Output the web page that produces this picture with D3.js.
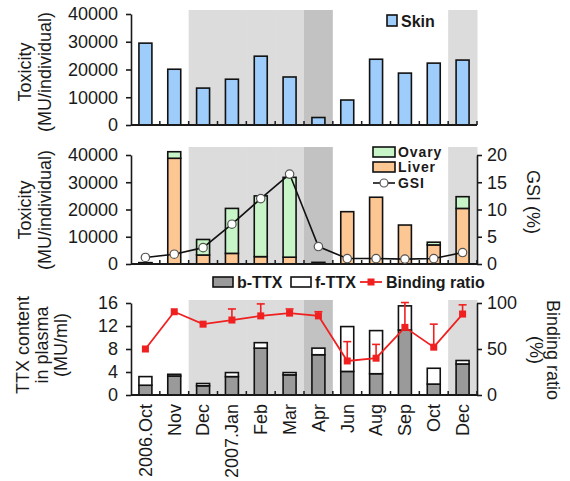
<!DOCTYPE html>
<html><head><meta charset="utf-8">
<script src="https://cdn.jsdelivr.net/npm/d3@7"></script>
<style>
body{margin:0;background:#fff;}
svg text{font-family:"Liberation Sans",Arial,sans-serif;fill:#1a1a1a;}
</style></head>
<body><svg id="c" width="570" height="481"></svg>
<script>
const months = ["2006.Oct","Nov","Dec","2007.Jan","Feb","Mar","Apr","Jun","Aug","Sep","Oct","Dec"];
const skin = [29500,20100,13300,16500,24800,17300,2700,9000,23700,18700,22300,23400];
const liver = [400,38800,3300,3900,2700,2500,600,19200,24500,14300,7000,20400];
const ovary = [100,2400,5700,16500,22300,29300,0,0,0,0,1000,4300];
const gsi = [1.2,1.8,3.0,7.3,12.0,16.5,3.2,1.0,1.0,0.9,1.0,2.1];
const bTTX = [1.7,3.3,1.6,3.2,8.15,3.5,7.0,4.1,3.7,11.3,1.9,5.4];
const fTTX = [1.5,0.3,0.4,0.7,0.95,0.4,1.15,7.8,7.5,4.2,2.75,0.6];
const binding = [50,90.5,77,81.5,86,89,86,37,40,73.5,52,88];
const bindingErr = [0,0,0,12,13,4.5,4.5,21,15,27,25,10];
const lightShade = [2,3,4,5,11];
const darkShade = [6];
const toxTicks = [0,10000,20000,30000,40000];
const gsiTicks = [0,5,10,15,20];
const plasmaTicks = [0,4,8,12,16];
const ratioTicks = [0,50,100];

const svg = d3.select("#c");
const X0 = 131, X1 = 477;
const idx = d3.range(months.length);
const xb = d3.scaleBand().domain(idx).range([X0, X1]).padding(0);
const x = d3.scaleBand().domain(idx).range([X0, X1]).paddingInner(0.55).paddingOuter(0.275);
const dark = "#1a1a1a";

const yTop = d3.scaleLinear().domain([0,40000]).range([125,14]);
const yMid = d3.scaleLinear().domain([0,40000]).range([264,155]);
const yGsi = d3.scaleLinear().domain([0,20]).range([264,155]);
const yBot = d3.scaleLinear().domain([0,16]).range([395,303]);
const yRat = d3.scaleLinear().domain([0,100]).range([395,303]);

function shading(yTopPx, yBase){
  const g = svg.append("g");
  g.selectAll("rect.l").data(lightShade).join("rect")
    .attr("x", i=>xb(i)).attr("width", xb.bandwidth()+0.5)
    .attr("y", yTopPx).attr("height", yBase-yTopPx).attr("fill","#dcdcdc");
  g.selectAll("rect.d").data(darkShade).join("rect")
    .attr("x", i=>xb(i)).attr("width", xb.bandwidth())
    .attr("y", yTopPx).attr("height", yBase-yTopPx).attr("fill","#c2c2c2");
}
function xAxis(yBase){
  const g = svg.append("g");
  g.append("line").attr("x1",X0).attr("x2",X1).attr("y1",yBase).attr("y2",yBase)
    .attr("stroke",dark).attr("stroke-width",2);
  g.selectAll("line.t").data(idx.slice(1)).join("line")
    .attr("x1",i=>xb(i)).attr("x2",i=>xb(i)).attr("y1",yBase).attr("y2",yBase-4)
    .attr("stroke",dark).attr("stroke-width",1.5);
  g.append("line").attr("x1",X1).attr("x2",X1).attr("y1",yBase).attr("y2",yBase-4)
    .attr("stroke",dark).attr("stroke-width",1.5);
}
function styleAxis(g){
  g.selectAll("path.domain").attr("stroke",dark).attr("stroke-width",1.6);
  g.selectAll(".tick line").attr("stroke",dark).attr("stroke-width",1.6);
  g.selectAll(".tick text").style("font-size","18px").attr("fill",dark);
}
function leftAxis(scale, ticks){
  const g = svg.append("g").attr("transform",`translate(${X0},0)`)
    .call(d3.axisLeft(scale).tickValues(ticks).tickSize(5).tickSizeOuter(0).tickPadding(8).tickFormat(d3.format("d")));
  styleAxis(g);
}
function rightAxis(scale, ticks){
  const g = svg.append("g").attr("transform",`translate(${X1},0)`)
    .call(d3.axisRight(scale).tickValues(ticks).tickSize(5).tickSizeOuter(0).tickPadding(5).tickFormat(d3.format("d")));
  styleAxis(g);
}
function vlabel(lines, cx, cy, rot, gap){
  lines.forEach((t,k)=>{
    const xx = rot<0 ? cx + k*gap : cx - k*gap;
    svg.append("text").attr("transform",`translate(${xx},${cy}) rotate(${rot})`)
      .attr("text-anchor","middle").attr("dy","0.35em").style("font-size","18px").text(t);
  });
}
function legText(xp, yp, t, size){
  svg.append("text").attr("x",xp).attr("y",yp).style("font-size",(size||16)+"px")
    .style("font-weight","bold").text(t);
}

// ---------- Top panel: skin ----------
shading(yTop(40000)-4, yTop(0));
svg.append("g").selectAll("rect").data(skin).join("rect")
  .attr("x",(d,i)=>x(i)).attr("width",x.bandwidth())
  .attr("y",d=>yTop(d)).attr("height",d=>yTop(0)-yTop(d))
  .attr("fill","#9fcdfb").attr("stroke","#111").attr("stroke-width",1.6);
xAxis(yTop(0));
leftAxis(yTop, toxTicks);
vlabel(["Toxicity","(MU/individual)"], 25, 72, -90, 20);
svg.append("rect").attr("x",387).attr("y",15).attr("width",10).attr("height",11)
  .attr("fill","#9fcdfb").attr("stroke","#111").attr("stroke-width",1.6);
legText(401, 26.5, "Skin");

// ---------- Middle panel ----------
shading(yMid(40000)-8, yMid(0));
const gm = svg.append("g");
gm.selectAll("rect.liv").data(liver).join("rect")
  .attr("x",(d,i)=>x(i)).attr("width",x.bandwidth())
  .attr("y",d=>yMid(d)).attr("height",d=>yMid(0)-yMid(d))
  .attr("fill","#fdc794").attr("stroke","#111").attr("stroke-width",1.6);
ovary.forEach((d,i)=>{
  if(d<=0) return;
  gm.append("rect").attr("x",x(i)).attr("width",x.bandwidth())
    .attr("y",yMid(liver[i]+d)).attr("height",yMid(liver[i])-yMid(liver[i]+d))
    .attr("fill","#c8f5c8").attr("stroke","#111").attr("stroke-width",1.6);
});
xAxis(yMid(0));
leftAxis(yMid, toxTicks);
rightAxis(yGsi, gsiTicks);
const cx = i => x(i)+x.bandwidth()/2;
svg.append("path").datum(gsi)
  .attr("d", d3.line().x((d,i)=>cx(i)).y(d=>yGsi(d)))
  .attr("fill","none").attr("stroke","#111").attr("stroke-width",1.6);
svg.append("g").selectAll("circle").data(gsi).join("circle")
  .attr("cx",(d,i)=>cx(i)).attr("cy",d=>yGsi(d)).attr("r",4.2)
  .attr("fill","#fff").attr("stroke","#555").attr("stroke-width",1.2);
vlabel(["Toxicity","(MU/individual)"], 25, 210, -90, 20);
vlabel(["GSI (%)"], 533, 202, 90, 0);
svg.append("rect").attr("x",373).attr("y",147).attr("width",22).attr("height",10)
  .attr("fill","#c8f5c8").attr("stroke","#111").attr("stroke-width",1.6);
legText(398, 157, "Ovary", 14);
svg.append("rect").attr("x",373).attr("y",162).attr("width",22).attr("height",10)
  .attr("fill","#fdc794").attr("stroke","#111").attr("stroke-width",1.6);
legText(398, 172, "Liver", 14);
svg.append("line").attr("x1",373).attr("x2",395).attr("y1",183).attr("y2",183).attr("stroke","#111").attr("stroke-width",1.6);
svg.append("circle").attr("cx",384).attr("cy",183).attr("r",4).attr("fill","#fff").attr("stroke","#555").attr("stroke-width",1.2);
legText(398, 188, "GSI", 14);
svg.selectAll("text").filter(function(){return this.style.fontSize==="14px";})
  .style("letter-spacing","0.9px");

// ---------- Bottom panel ----------
shading(yBot(16)-3, yBot(0));
const gb = svg.append("g");
gb.selectAll("rect.b").data(bTTX).join("rect")
  .attr("x",(d,i)=>x(i)).attr("width",x.bandwidth())
  .attr("y",d=>yBot(d)).attr("height",d=>yBot(0)-yBot(d))
  .attr("fill","#9a9a9a").attr("stroke","#111").attr("stroke-width",1.6);
fTTX.forEach((d,i)=>{
  gb.append("rect").attr("x",x(i)).attr("width",x.bandwidth())
    .attr("y",yBot(bTTX[i]+d)).attr("height",yBot(bTTX[i])-yBot(bTTX[i]+d))
    .attr("fill","#fff").attr("stroke","#111").attr("stroke-width",1.6);
});
xAxis(yBot(0));
leftAxis(yBot, plasmaTicks);
rightAxis(yRat, ratioTicks);
const red = "#f02020";
const ge = svg.append("g");
binding.forEach((d,i)=>{
  if(bindingErr[i]<=0) return;
  ge.append("line").attr("x1",cx(i)).attr("x2",cx(i)).attr("y1",yRat(d)).attr("y2",yRat(d+bindingErr[i]))
    .attr("stroke",red).attr("stroke-width",1.6);
  ge.append("line").attr("x1",cx(i)-4).attr("x2",cx(i)+4).attr("y1",yRat(d+bindingErr[i])).attr("y2",yRat(d+bindingErr[i]))
    .attr("stroke",red).attr("stroke-width",1.6);
});
svg.append("path").datum(binding)
  .attr("d", d3.line().x((d,i)=>cx(i)).y(d=>yRat(d)))
  .attr("fill","none").attr("stroke",red).attr("stroke-width",1.8);
svg.append("g").selectAll("rect").data(binding).join("rect")
  .attr("x",(d,i)=>cx(i)-3.5).attr("y",d=>yRat(d)-3.5).attr("width",7).attr("height",7).attr("fill",red);
vlabel(["TTX content","in plasma","(MU/ml)"], 23, 345, -90, 19);
vlabel(["Binding ratio","(%)"], 553, 350, 90, 17);
svg.append("rect").attr("x",213).attr("y",277).attr("width",20).attr("height",10)
  .attr("fill","#9a9a9a").attr("stroke","#111").attr("stroke-width",1.6);
legText(237, 288, "b-TTX");
svg.append("rect").attr("x",291).attr("y",277).attr("width",20).attr("height",10)
  .attr("fill","#fff").attr("stroke","#111").attr("stroke-width",1.6);
legText(315, 288, "f-TTX");
svg.append("line").attr("x1",360).attr("x2",382).attr("y1",282).attr("y2",282).attr("stroke",red).attr("stroke-width",1.8);
svg.append("rect").attr("x",367.5).attr("y",278.5).attr("width",7).attr("height",7).attr("fill",red);
legText(386, 288, "Binding ratio");

// x labels
svg.append("g").selectAll("text").data(months).join("text")
  .attr("transform",(d,i)=>`translate(${cx(i)},${yBot(0)+9}) rotate(-90)`)
  .attr("text-anchor","end").attr("dy","0.35em").style("font-size","18px").text(d=>d);
</script></body></html>
